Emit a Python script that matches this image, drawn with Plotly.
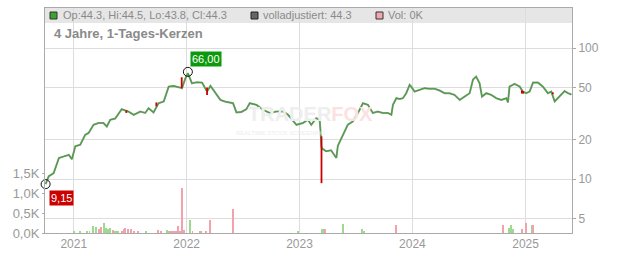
import math
import plotly.graph_objects as go

# ---------------- data ----------------
price_dates = [
    "2020-10-02", "2020-10-12", "2020-10-28", "2020-11-14", "2020-11-30", "2020-12-16", "2020-12-26",
    "2021-01-06", "2021-01-22", "2021-02-07", "2021-02-18", "2021-03-06", "2021-03-22", "2021-04-07",
    "2021-04-18", "2021-04-29", "2021-05-15", "2021-06-05", "2021-06-27", "2021-07-14", "2021-08-04",
    "2021-08-20", "2021-08-31", "2021-09-16", "2021-10-02", "2021-10-19", "2021-11-04", "2021-11-20",
    "2021-12-06", "2021-12-17", "2021-12-28",
    "2022-01-05", "2022-01-18", "2022-02-03", "2022-02-20", "2022-03-08", "2022-03-19", "2022-04-04",
    "2022-04-20", "2022-05-04", "2022-05-31", "2022-06-11", "2022-06-27", "2022-07-13", "2022-07-24",
    "2022-08-15", "2022-09-05", "2022-09-27", "2022-10-18", "2022-11-09", "2022-11-25", "2022-12-22",
    "2023-01-12", "2023-01-28", "2023-02-08", "2023-02-24", "2023-03-07", "2023-03-10", "2023-03-13",
    "2023-03-17", "2023-03-28", "2023-04-13", "2023-04-24", "2023-04-30", "2023-05-05", "2023-05-16",
    "2023-05-27", "2023-06-06", "2023-06-22", "2023-07-09", "2023-07-25", "2023-08-10", "2023-08-26",
    "2023-09-11", "2023-09-27", "2023-10-14", "2023-10-25", "2023-10-30", "2023-11-10", "2023-11-21",
    "2023-12-01", "2023-12-12", "2023-12-23", "2023-12-28",
    "2024-01-08", "2024-01-24", "2024-02-09", "2024-02-25", "2024-03-13", "2024-03-29", "2024-04-14",
    "2024-04-30", "2024-05-16", "2024-06-02", "2024-06-18", "2024-07-04", "2024-07-15", "2024-07-25",
    "2024-08-05", "2024-08-13", "2024-08-27", "2024-09-12", "2024-09-28", "2024-10-14", "2024-10-31",
    "2024-11-05", "2024-11-10", "2024-11-26", "2024-12-13", "2024-12-23",
    "2025-01-03", "2025-01-14", "2025-01-25", "2025-02-10", "2025-02-26", "2025-03-14", "2025-03-25",
    "2025-04-05", "2025-04-15", "2025-04-26", "2025-05-07", "2025-05-18", "2025-05-29",
]
price_close = [
    9.15, 10.5, 11.1, 14.5, 14.9, 15.3, 14.2,
    17.8, 18.3, 21.8, 22.5, 26.0, 26.8, 26.8, 25.2, 28.4, 29.0, 34.2, 32.8, 31.0, 32.8, 32.0, 34.8,
    32.3, 38.0, 39.2, 50.9, 51.5, 50.4, 49.5, 59.0,
    64.4, 54.0, 55.0, 54.6, 46.6, 51.5, 45.3, 40.3, 39.2, 38.0, 32.3, 32.6, 34.2, 38.0, 36.9, 33.8,
    32.0, 32.8, 32.8, 31.0, 26.0,
    26.8, 28.4, 26.0, 29.2, 28.4, 23.1, 17.5, 17.0, 16.3, 16.6, 15.3, 14.5, 18.0, 20.6, 23.1, 26.0,
    27.5, 32.0, 38.0, 37.0, 32.0, 32.8, 32.0, 32.0, 31.0, 36.9, 41.5, 41.0, 41.5, 45.3, 52.5, 50.9,
    46.6, 48.0, 49.5, 49.0, 49.0, 47.5, 45.3, 45.3, 44.0, 40.3, 42.7, 45.3, 57.7, 60.7, 54.1, 42.7,
    45.3, 44.0, 41.5, 40.3, 41.5, 38.5, 50.9, 53.4, 50.9, 46.6,
    45.3, 46.6, 54.6, 54.6, 50.9, 45.3, 46.6, 39.2, 41.5, 44.0, 47.0, 45.3, 44.3,
]

# notable red (falling) candles: date, high, low
red_dates = ["2021-06-20", "2021-09-25", "2021-12-16", "2022-03-08", "2023-03-13",
             "2024-12-20", "2024-12-24", "2025-03-30"]
red_high = [33.5, 38.5, 60.0, 50.0, 21.2, 47.5, 47.0, 46.0]
red_low = [32.0, 36.0, 49.5, 44.0, 9.3, 45.0, 45.0, 44.5]

# extremes
low_date, low_value, low_label = "2020-10-02", 9.15, "9,15"
high_date, high_value, high_label = "2022-01-05", 66.0, "66,00"

# volume (thousands), up = green, down = pink
vol_dates = [
    "2021-01-01", "2021-01-20", "2021-02-12", "2021-02-21", "2021-03-04", "2021-03-15", "2021-03-23",
    "2021-03-31", "2021-04-08", "2021-04-16", "2021-04-22", "2021-04-28", "2021-05-08", "2021-05-13",
    "2021-05-19", "2021-05-24", "2021-06-07", "2021-06-11", "2021-06-16", "2021-06-25", "2021-07-06",
    "2021-07-14", "2021-07-28", "2021-08-24", "2021-09-30", "2021-10-09", "2021-10-28", "2021-11-02",
    "2021-11-09", "2021-11-16", "2021-11-20", "2021-11-27", "2021-12-04", "2021-12-10", "2021-12-17",
    "2021-12-22", "2022-01-12", "2022-01-20", "2022-02-12", "2022-02-18", "2022-03-06", "2022-03-18",
    "2022-05-31", "2022-12-27", "2023-03-16", "2023-03-22", "2023-03-24", "2023-05-22", "2023-07-23",
    "2023-07-28", "2023-11-09", "2024-10-20", "2024-11-09", "2024-11-15", "2024-11-22", "2024-12-21",
    "2025-01-03", "2025-01-22", "2025-01-25",
]
vol_values = [
    0.03, 0.05, 0.05, 0.06, 0.18, 0.15, 0.09,
    0.15, 0.24, 0.12, 0.10, 0.12, 0.075, 0.06,
    0.04, 0.05, 0.06, 0.10, 0.12, 0.10, 0.10,
    0.06, 0.03, 0.03, 0.075, 0.06, 0.075, 0.05,
    0.05, 0.06, 0.06, 0.03, 0.175, 0.06, 1.13,
    0.075, 0.325, 0.03, 0.03, 0.03, 0.03, 0.33,
    0.60, 0.05, 0.10, 0.10, 0.10, 0.225, 0.10,
    0.03, 0.20, 0.20, 0.12, 0.20, 0.10, 0.10,
    0.25, 0.20, 0.20,
]
vol_up = [
    1, 1, 1, 1, 1, 1, 0,
    0, 1, 1, 1, 1, 0, 1,
    1, 1, 0, 0, 0, 0, 0,
    0, 0, 1, 0, 0, 1, 1,
    0, 0, 0, 0, 0, 0, 0,
    0, 1, 0, 0, 1, 0, 0,
    0, 1, 1, 1, 0, 1, 1,
    1, 0, 0, 1, 1, 1, 0,
    0, 1, 0,
]

vol_tick_vals = [0, 0.5, 1.0, 1.5]
vol_tick_text = ["0,0K", "0,5K", "1,0K", "1,5K"]
price_tick_vals = [5, 10, 20, 50, 100]
year_ticks = ["2021-01-01", "2022-01-01", "2023-01-01", "2024-01-01", "2025-01-01"]
year_labels = ["2021", "2022", "2023", "2024", "2025"]

legend_ohlc = "Op:44.3, Hi:44.5, Lo:43.8, Cl:44.3"
legend_adj = "volladjustiert: 44.3"
legend_vol = "Vol: 0K"
subtitle = "4 Jahre, 1-Tages-Kerzen"

# ---------------- styling / geometry ----------------
W, H = 632, 253
ML, MR, MT, MB = 45, 60, 8, 20
PW, PH = W - ML - MR, H - MT - MB

def px_x(px):
    return (px - ML) / PW

def px_y(py):
    return (H - MB - py) / PH

GREEN = "#3fa535"
GREY = "#9a9a9a"
PINK = "#f2a2ac"
LGREEN = "#9fd890"
AX = "#aaaaaa"
TXT = "#999999"

fig = go.Figure()

# volume bars (left axis)
fig.add_trace(go.Bar(
    x=vol_dates, y=vol_values,
    marker=dict(color=[LGREEN if u else PINK for u in vol_up], line=dict(width=0)),
    width=3 * 86400000, yaxis="y", hoverinfo="skip", showlegend=False,
))

# adjusted line (grey) and candles line (green)
fig.add_trace(go.Scatter(
    x=price_dates, y=price_close, mode="lines", yaxis="y2",
    line=dict(color=GREY, width=2.0), hoverinfo="skip", showlegend=False,
))
fig.add_trace(go.Scatter(
    x=price_dates, y=price_close, mode="lines", yaxis="y2",
    line=dict(color=GREEN, width=1.1), hoverinfo="skip", showlegend=False,
))

# red candle wicks
rx, ry = [], []
for d, h, l in zip(red_dates, red_high, red_low):
    rx += [d, d, None]
    ry += [h, l, None]
fig.add_trace(go.Scatter(
    x=rx, y=ry, mode="lines", yaxis="y2",
    line=dict(color="#cc0000", width=1.8), hoverinfo="skip", showlegend=False,
))

# extreme markers
fig.add_trace(go.Scatter(
    x=[low_date, high_date], y=[low_value, high_value], mode="markers", yaxis="y2",
    marker=dict(symbol="circle-open", size=9, color="#111111", line=dict(width=1)),
    cliponaxis=False, hoverinfo="skip", showlegend=False,
))

annotations = [
    dict(x=low_date, y=math.log10(low_value), xref="x", yref="y2", text=low_label,
         showarrow=False, xanchor="left", yanchor="top", xshift=3, yshift=-6,
         bgcolor="#cc0000", borderpad=1, font=dict(color="white", size=11, family="Liberation Sans")),
    dict(x=high_date, y=math.log10(high_value), xref="x", yref="y2", text=high_label,
         showarrow=False, xanchor="left", yanchor="bottom", xshift=2, yshift=5,
         bgcolor="#0c990c", borderpad=1, font=dict(color="white", size=11, family="Liberation Sans")),
    dict(x=px_x(61), y=px_y(15.5), xref="paper", yref="paper", text=legend_ohlc, showarrow=False,
         xanchor="left", yanchor="middle", font=dict(color="#8a8a8a", size=11, family="Liberation Sans")),
    dict(x=px_x(261), y=px_y(15.5), xref="paper", yref="paper", text=legend_adj, showarrow=False,
         xanchor="left", yanchor="middle", font=dict(color="#8a8a8a", size=11, family="Liberation Sans")),
    dict(x=px_x(386), y=px_y(15.5), xref="paper", yref="paper", text=legend_vol, showarrow=False,
         xanchor="left", yanchor="middle", font=dict(color="#8a8a8a", size=11, family="Liberation Sans")),
    dict(x=px_x(52), y=px_y(34), xref="paper", yref="paper", text="<b>" + subtitle + "</b>",
         showarrow=False, xanchor="left", yanchor="middle",
         font=dict(color="#8a8a8a", size=13, family="Liberation Sans")),
    # watermark
    dict(x=px_x(310), y=px_y(127), xref="paper", yref="paper",
         text="<b><span style='color:#eeeeee'>TRADER</span><span style='color:#fbe2e2'>FOX</span></b>",
         showarrow=False, xanchor="center", yanchor="bottom",
         font=dict(size=20, family="Liberation Sans")),
    dict(x=px_x(280), y=px_y(128), xref="paper", yref="paper", text="REALTIME STOCK SCREENING",
         showarrow=False, xanchor="center", yanchor="top",
         font=dict(size=6, color="#ededed", family="Liberation Sans")),
]

shapes = [
    # header band
    dict(type="rect", xref="paper", yref="paper", x0=0, x1=1, y0=px_y(23), y1=1,
         fillcolor="#e6e6e6", line=dict(width=0), layer="below"),
    # legend squares
    dict(type="rect", xref="paper", yref="paper", x0=px_x(50), x1=px_x(57), y0=px_y(19), y1=px_y(12),
         fillcolor="#3aa52c", line=dict(color="#333333", width=1)),
    dict(type="rect", xref="paper", yref="paper", x0=px_x(251), x1=px_x(258), y0=px_y(19), y1=px_y(12),
         fillcolor="#666666", line=dict(color="#222222", width=1)),
    dict(type="rect", xref="paper", yref="paper", x0=px_x(376), x1=px_x(383), y0=px_y(19), y1=px_y(12),
         fillcolor="#f2a7b0", line=dict(color="#333333", width=1)),
]

fig.update_layout(
    width=W, height=H,
    margin=dict(l=ML, r=MR, t=MT, b=MB, pad=0, autoexpand=False),
    paper_bgcolor="white", plot_bgcolor="rgba(0,0,0,0)",
    font=dict(family="Liberation Sans", color=TXT, size=12),
    showlegend=False, bargap=0,
    annotations=annotations, shapes=shapes,
    xaxis=dict(
        type="date", range=["2020-09-30", "2025-05-31"],
        tickvals=year_ticks, ticktext=year_labels,
        showgrid=True, gridcolor="#dddddd", gridwidth=1,
        showline=True, linecolor=AX, linewidth=1, mirror=True,
        ticks="", tickfont=dict(size=12, color=TXT), zeroline=False, automargin=False,
    ),
    yaxis=dict(
        range=[0, PH / 40.0], tickvals=vol_tick_vals, ticktext=vol_tick_text,
        showgrid=False, zeroline=False, showline=True, linecolor=AX, linewidth=1,
        ticks="outside", ticklen=2, tickcolor=AX, tickfont=dict(size=13, color=TXT),
        automargin=False,
    ),
    yaxis2=dict(
        type="log", overlaying="y", side="right",
        range=[math.log10(3.87), math.log10(203)],
        tickvals=price_tick_vals, ticktext=[str(v) for v in price_tick_vals],
        showgrid=True, gridcolor="#dddddd", gridwidth=1, zeroline=False,
        showline=True, linecolor=AX, linewidth=1,
        ticks="outside", ticklen=3, tickcolor=AX, tickfont=dict(size=12, color=TXT),
        automargin=False,
    ),
)

fig.write_html("out.html")
